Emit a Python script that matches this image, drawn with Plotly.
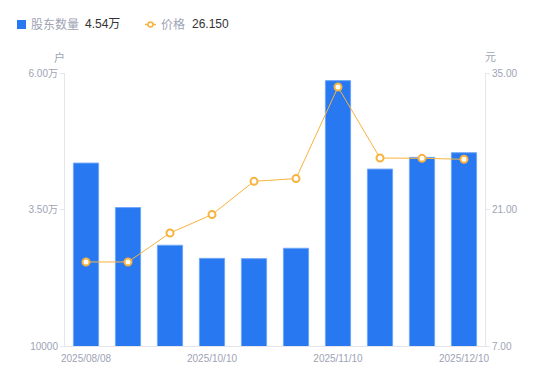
import plotly.graph_objects as go

dates = ["2025/08/08", "2025/08/29", "2025/09/19", "2025/10/10", "2025/10/20",
         "2025/10/31", "2025/11/10", "2025/11/20", "2025/11/28", "2025/12/10"]
holders = [43500, 35350, 28450, 26050, 26000, 27900, 58600, 42400, 44550, 45400]
prices = [15.62, 15.62, 18.59, 20.48, 23.89, 24.17, 33.56, 26.28, 26.25, 26.15]
shown_dates = ["2025/08/08", "2025/10/10", "2025/11/10", "2025/12/10"]
left_ticks = [10000, 35000, 60000]
left_labels = ["10000", "3.50万", "6.00万"]
right_ticks = [7, 21, 35]
right_labels = ["7.00", "21.00", "35.00"]

BLUE = "#2878f2"
ORANGE = "#f7b33e"
GREY = "#9ea3b5"
FONT = "Liberation Sans, Noto Sans CJK SC, sans-serif"

OFF = 8  # page body margin
W, H = 550 - OFF, 381 - OFF
L, T = 65 - OFF, 73 - OFF
pw, ph = 420, 273
R = W - L - pw
B = H - T - ph

def px(x):
    return (x - OFF - L) / pw

def py(y):
    return 1 - (y - OFF - T) / ph

def label(x, y, text, color=GREY, size=12, anchor="left"):
    fig.add_annotation(x=px(x), y=py(y), xref="paper", yref="paper",
                       xanchor=anchor, yanchor="middle", text=text,
                       showarrow=False, font=dict(size=size, color=color))

fig = go.Figure()
fig.add_trace(go.Bar(
    x=dates, y=holders, name="股东数量", yaxis="y",
    marker=dict(color=BLUE, line=dict(color="#6fa6f7", width=1)),
    width=0.6,
))
fig.add_trace(go.Scatter(
    x=dates, y=prices, name="价格", yaxis="y2", mode="lines+markers",
    line=dict(color=ORANGE, width=1),
    marker=dict(symbol="circle", size=7, color="white",
                line=dict(color=ORANGE, width=2)),
))

fig.update_layout(
    width=W, height=H,
    margin=dict(l=L, r=R, t=T, b=B),
    plot_bgcolor="white", paper_bgcolor="white",
    showlegend=False,
    font=dict(family=FONT, size=10, color=GREY),
    bargap=0.4,
    xaxis=dict(
        type="category", range=[-0.5, len(dates) - 0.5],
        tickmode="array", tickvals=shown_dates, ticktext=shown_dates,
        showgrid=False, showline=True, linecolor="#e4e6ec", linewidth=1,
        ticks="outside", ticklen=3, tickcolor="rgba(0,0,0,0)",
        tickfont=dict(size=10, color=GREY), zeroline=False,
    ),
    yaxis=dict(
        range=[10000, 60000], tickmode="array", tickvals=left_ticks, ticktext=left_labels,
        showgrid=False, showline=True, linecolor="#e4e6ec", linewidth=1,
        ticks="outside", ticklen=4, tickcolor="#e4e6ec",
        tickfont=dict(size=10, color=GREY), zeroline=False,
    ),
    yaxis2=dict(
        range=[7, 35], overlaying="y", side="right", tickmode="array",
        tickvals=right_ticks, ticktext=right_labels,
        showgrid=False, showline=True, linecolor="#e4e6ec", linewidth=1,
        ticks="outside", ticklen=4, tickcolor="#e4e6ec",
        tickfont=dict(size=10, color=GREY), zeroline=False,
    ),
)

# axis unit labels
label(59, 57, "户", size=11, anchor="center")
label(490, 57, "元", size=11, anchor="center")

# custom legend
fig.add_shape(type="rect", xref="paper", yref="paper",
              x0=px(17), x1=px(26), y0=py(29), y1=py(20),
              fillcolor=BLUE, line=dict(width=0))
label(29, 24.5, "股东数量")
label(83, 24.5, f"{holders[-1]/10000:.2f}万", color="#333333")
fig.add_shape(type="line", xref="paper", yref="paper",
              x0=px(145), x1=px(156), y0=py(24.5), y1=py(24.5),
              line=dict(color=ORANGE, width=1.5))
fig.add_shape(type="circle", xref="paper", yref="paper",
              x0=px(148), x1=px(153), y0=py(27), y1=py(22),
              fillcolor="white", line=dict(color=ORANGE, width=1.5))
label(159, 24.5, "价格")
label(190, 24.5, f"{prices[-1]:.3f}", color="#333333")

fig.write_html("out.html")
